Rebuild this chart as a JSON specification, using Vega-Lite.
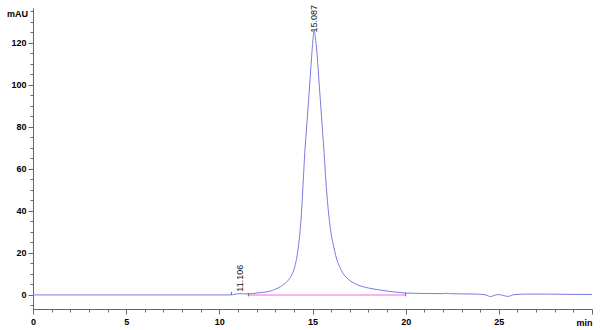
{
  "$schema": "https://vega.github.io/schema/vega-lite/v6.json",
  "width": 559,
  "height": 301,
  "autosize": {"type": "none"},
  "padding": {"left": 33, "top": 8, "right": 8, "bottom": 21},
  "background": "white",
  "config": {
    "view": {"stroke": null},
    "font": "Liberation Sans"
  },
  "datasets": {
    "trace": [
      {"t": 0, "v": 0}, {"t": 5, "v": 0}, {"t": 10, "v": 0}, {"t": 10.6, "v": 0},
      {"t": 10.7, "v": 0.1}, {"t": 10.9, "v": 0.4}, {"t": 11.1, "v": 0.6}, {"t": 11.3, "v": 0.5},
      {"t": 11.6, "v": 0.5}, {"t": 12.0, "v": 0.9}, {"t": 12.3, "v": 1.2}, {"t": 12.69, "v": 1.7},
      {"t": 13.0, "v": 2.7}, {"t": 13.3, "v": 4.0}, {"t": 13.5, "v": 5.3}, {"t": 13.7, "v": 7.0},
      {"t": 13.85, "v": 8.9}, {"t": 13.95, "v": 10.8}, {"t": 14.05, "v": 13.5}, {"t": 14.15, "v": 17.5},
      {"t": 14.25, "v": 23.5}, {"t": 14.33, "v": 30}, {"t": 14.4, "v": 38}, {"t": 14.46, "v": 47},
      {"t": 14.52, "v": 57}, {"t": 14.58, "v": 67}, {"t": 14.67, "v": 78}, {"t": 14.76, "v": 89},
      {"t": 14.84, "v": 99}, {"t": 14.95, "v": 113}, {"t": 15.02, "v": 121}, {"t": 15.087, "v": 126},
      {"t": 15.15, "v": 123}, {"t": 15.25, "v": 114}, {"t": 15.37, "v": 99}, {"t": 15.5, "v": 83},
      {"t": 15.62, "v": 68}, {"t": 15.72, "v": 54}, {"t": 15.8, "v": 45}, {"t": 15.9, "v": 36},
      {"t": 16.0, "v": 29}, {"t": 16.1, "v": 24.5}, {"t": 16.2, "v": 20.5}, {"t": 16.3, "v": 17},
      {"t": 16.45, "v": 13.5}, {"t": 16.6, "v": 10.8}, {"t": 16.8, "v": 8.5}, {"t": 17.0, "v": 6.9},
      {"t": 17.25, "v": 5.5}, {"t": 17.6, "v": 4.2}, {"t": 18.0, "v": 3.3}, {"t": 18.5, "v": 2.5},
      {"t": 19.1, "v": 1.7}, {"t": 19.6, "v": 1.2}, {"t": 20.0, "v": 0.9},
      {"t": 21.0, "v": 0.7}, {"t": 22.0, "v": 0.6}, {"t": 22.2, "v": 0.8}, {"t": 22.4, "v": 0.6},
      {"t": 23.0, "v": 0.5}, {"t": 23.8, "v": 0.4}, {"t": 24.3, "v": 0.0}, {"t": 24.55, "v": -0.8},
      {"t": 24.8, "v": -0.1}, {"t": 25.0, "v": 0.2}, {"t": 25.2, "v": -0.2}, {"t": 25.5, "v": -0.7},
      {"t": 25.8, "v": 0.1}, {"t": 26.5, "v": 0.4}, {"t": 27.5, "v": 0.4}, {"t": 28.5, "v": 0.3},
      {"t": 30.0, "v": 0.2}
    ],
    "baseline": [{"t": 11.56, "v": 0}, {"t": 20.0, "v": 0}],
    "markers": [
      {"t": 10.65, "lo": 0, "hi": 1.5},
      {"t": 11.56, "lo": -0.7, "hi": 1.0},
      {"t": 20.0, "lo": -0.7, "hi": 1.0}
    ],
    "labels": [
      {"t": 11.106, "v": 0.6, "label": "11.106"},
      {"t": 15.087, "v": 124, "label": "15.087"}
    ]
  },
  "layer": [
    {
      "data": {"name": "baseline"},
      "mark": {"type": "line", "color": "#f59af0", "strokeWidth": 1.5},
      "encoding": {
        "x": {
          "field": "t", "type": "quantitative",
          "scale": {"domain": [0, 30], "nice": false, "zero": false},
          "axis": {
            "values": [0,1,2,3,4,5,6,7,8,9,10,11,12,13,14,15,16,17,18,19,20,21,22,23,24,25,26,27,28,29,30],
            "tickCount": 100,
            "format": "d",
            "labelExpr": "(datum.value % 5 === 0 && datum.value < 30) ? datum.label : ''",
            "grid": false,
            "domainColor": "#666666",
            "tickColor": "#666666",
            "tickSize": {"condition": {"test": "datum.value % 5 === 0", "value": 5}, "value": 3},
            "labelFontSize": 9,
            "labelFontWeight": "bold",
            "labelColor": "#000000",
            "labelPadding": 3,
            "labelFlush": false,
            "labelOverlap": false,
            "title": "min",
            "titleFontSize": 9,
            "titleFontWeight": "bold",
            "titleColor": "#000000",
            "titleAlign": "right",
            "titleAnchor": null,
            "titleX": 559,
            "titleY": 13,
            "titleBaseline": "middle"
          }
        },
        "y": {
          "field": "v", "type": "quantitative",
          "scale": {"domain": [-6.7, 136.6], "nice": false, "zero": false},
          "axis": {
            "values": [-5,0,5,10,15,20,25,30,35,40,45,50,55,60,65,70,75,80,85,90,95,100,105,110,115,120,125,130,135],
            "tickCount": 100,
            "format": "d",
            "labelExpr": "(datum.value % 20 === 0 && datum.value >= 0 && datum.value <= 120) ? datum.label : ''",
            "grid": false,
            "domainColor": "#666666",
            "tickColor": "#666666",
            "tickSize": {"condition": {"test": "datum.value % 20 === 0", "value": 5}, "value": 3},
            "labelFontSize": 9,
            "labelFontWeight": "bold",
            "labelColor": "#000000",
            "labelPadding": 2,
            "labelFlush": false,
            "labelOverlap": false,
            "title": "mAU",
            "titleFontSize": 9,
            "titleFontWeight": "bold",
            "titleColor": "#000000",
            "titleAngle": 0,
            "titleAlign": "center",
            "titleAnchor": null,
            "titleX": -16,
            "titleY": 5,
            "titleBaseline": "middle"
          }
        }
      }
    },
    {
      "data": {"name": "trace"},
      "mark": {"type": "line", "color": "#7b7be3", "strokeWidth": 1, "interpolate": "monotone"},
      "encoding": {
        "x": {"field": "t", "type": "quantitative"},
        "y": {"field": "v", "type": "quantitative"}
      }
    },
    {
      "data": {"name": "markers"},
      "mark": {"type": "rule", "color": "#555555", "strokeWidth": 0.8},
      "encoding": {
        "x": {"field": "t", "type": "quantitative"},
        "y": {"field": "lo", "type": "quantitative"},
        "y2": {"field": "hi"}
      }
    },
    {
      "data": {"name": "labels"},
      "mark": {"type": "text", "angle": 270, "align": "left", "baseline": "middle", "dx": 2, "fontSize": 9, "color": "#111111"},
      "encoding": {
        "x": {"field": "t", "type": "quantitative"},
        "y": {"field": "v", "type": "quantitative"},
        "text": {"field": "label"}
      }
    }
  ]
}
